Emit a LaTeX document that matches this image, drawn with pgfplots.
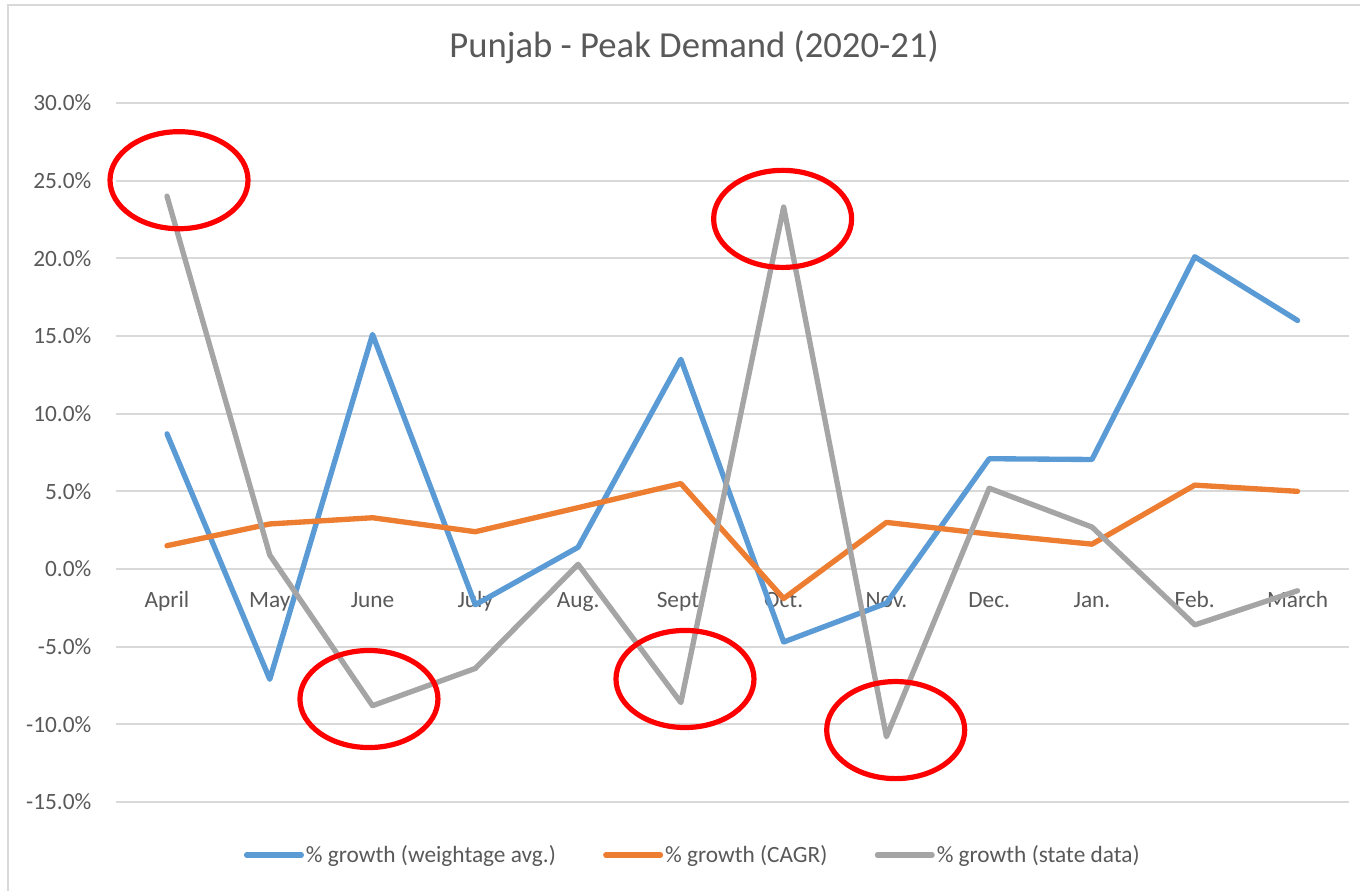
\documentclass[border=0pt]{standalone}
\usepackage{pgfplots}
\pgfplotsset{compat=1.18}
\usepackage{pgfplotstable}
\usepackage{fontspec}
\setmainfont{Carlito}
\definecolor{cblue}{HTML}{5B9BD5}
\definecolor{corange}{HTML}{ED7D31}
\definecolor{cgray}{HTML}{A5A5A5}
\definecolor{ctext}{HTML}{595959}
\definecolor{cgrid}{HTML}{D9D9D9}
\definecolor{cred}{HTML}{FF0000}
\pgfplotstableread{
x wavg cagr state
0 8.7 1.5 24.0
1 -7.1 2.9 0.9
2 15.1 3.3 -8.8
3 -2.3 2.4 -6.4
4 1.4 3.95 0.3
5 13.5 5.5 -8.6
6 -4.7 -1.9 23.3
7 -2.2 3.0 -10.8
8 7.1 2.25 5.2
9 7.05 1.6 2.7
10 20.1 5.4 -3.6
11 16.0 5.0 -1.4
}\datatable
\begin{document}
\begin{tikzpicture}[x=0.75pt,y=0.75pt]
\useasboundingbox (0,0) rectangle (1360,890);
\draw[cgrid, line width=1.5pt] (8,-40) -- (8,885) -- (1420,885);
\begin{axis}[
  at={(86.7pt,66pt)}, anchor=south west,
  scale only axis, width=925pt, height=524.25pt,
  xmin=-0.5, xmax=11.5, ymin=-15, ymax=30,
  xtick={0,...,11},
  xticklabels={April,May,June,July,Aug.,Sept.,Oct.,Nov.,Dec.,Jan.,Feb.,March},
  ytick={-15,-10,...,30},
  ymajorgrids, major grid style={color=cgrid, line width=1.3pt},
  axis line style={draw=none}, major tick length=0pt,
  tick label style={font=\fontsize{17.5}{20}\selectfont, text=ctext},
  xticklabel style={anchor=base, yshift=146.25pt},
  yticklabel style={anchor=east, inner sep=0pt, xshift=-18pt},
  /pgf/number format/assume math mode=true,
  yticklabel={\pgfmathprintnumber[fixed,fixed zerofill,precision=1]{\tick}\%},
  title={Punjab - Peak Demand (2020-21)},
  title style={at={(0.469,1.053)}, anchor=base, font=\fontsize{27.5}{32}\selectfont, text=ctext},
  legend style={at={(0.468,-0.0758)}, anchor=center, draw=none, fill=none,
    font=\fontsize{17.5}{20}\selectfont, text=ctext,
    nodes={inner xsep=1.5pt},
    /tikz/every even column/.append style={column sep=34pt}},
  legend columns=3,
  legend image code/.code={\draw[#1, line cap=round] (0pt,0pt) -- (41pt,0pt);},
  clip=false,
]
\addplot[cblue, line width=4pt, line join=round, line cap=round] table[x=x, y=wavg] {\datatable};
\addlegendentry{\% growth (weightage avg.)}
\addplot[corange, line width=4pt, line join=round, line cap=round] table[x=x, y=cagr] {\datatable};
\addlegendentry{\% growth (CAGR)}
\addplot[cgray, line width=4pt, line join=round, line cap=round] table[x=x, y=state] {\datatable};
\addlegendentry{\% growth (state data)}
\draw[cred, line width=3.9pt] (axis cs:0.117,25.03) ellipse [x radius=51.75pt, y radius=36.4pt];
\draw[cred, line width=3.9pt] (axis cs:1.965,-8.37) ellipse [x radius=51.75pt, y radius=36.4pt];
\draw[cred, line width=3.9pt] (axis cs:5.99,22.54) ellipse [x radius=51.75pt, y radius=36.4pt];
\draw[cred, line width=3.9pt] (axis cs:5.04,-7.08) ellipse [x radius=51.75pt, y radius=36.4pt];
\draw[cred, line width=3.9pt] (axis cs:7.09,-10.37) ellipse [x radius=51.75pt, y radius=36.4pt];
\end{axis}
\end{tikzpicture}
\end{document}
